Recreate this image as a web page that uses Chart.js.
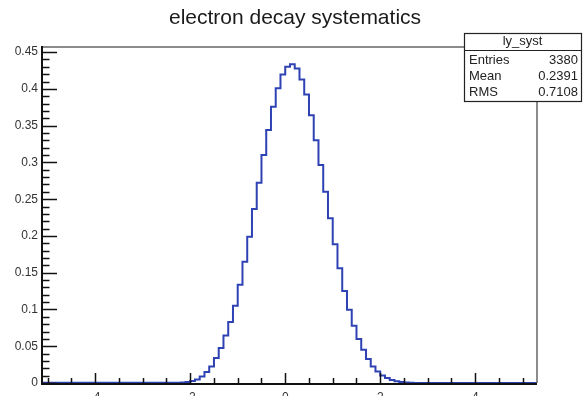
<!DOCTYPE html>
<html>
<head>
<meta charset="utf-8">
<script src="https://cdn.jsdelivr.net/npm/chart.js@4/dist/chart.umd.min.js"></script>
<style>
html,body{margin:0;padding:0;background:#fff;}
#wrap{width:583px;height:396px;position:relative;}
</style>
</head>
<body>
<div id="wrap"><canvas id="c" width="583" height="396"></canvas></div>
<script>
// ---- data ----
const titleText = "electron decay systematics";
const histName = "ly_syst";
const statLabels = ["Entries", "Mean", "RMS"];
const statValues = ["3380", "0.2391", "0.7108"];

// low edges of bins (bin width 0.1); first point = start of range, last = end of range
const binLow = [-5.12, -2.2, -2.1, -2.0, -1.9, -1.8, -1.7, -1.6, -1.5, -1.4, -1.3, -1.2, -1.1,
  -1.0, -0.9, -0.8, -0.7, -0.6, -0.5, -0.4, -0.3, -0.2, -0.1, 0.0, 0.1, 0.2, 0.3, 0.4, 0.5,
  0.6, 0.7, 0.8, 0.9, 1.0, 1.1, 1.2, 1.3, 1.4, 1.5, 1.6, 1.7, 1.8, 1.9, 2.0, 2.1, 2.2, 2.3,
  2.4, 2.5, 2.6, 2.7, 2.8, 5.3];
const binContent = [0, 0.0004, 0.0008, 0.0015, 0.0027, 0.0049, 0.009, 0.0149, 0.0225, 0.034, 0.0475, 0.0646, 0.0828,
  0.105, 0.1335, 0.165, 0.199, 0.2367, 0.2724, 0.31, 0.344, 0.3756, 0.401, 0.4196, 0.43, 0.4335, 0.4277, 0.4128, 0.3924,
  0.3643, 0.3303, 0.2964, 0.2602, 0.224, 0.1887, 0.156, 0.1253, 0.0995, 0.0778, 0.0597, 0.0452, 0.0326, 0.0225, 0.0157, 0.0103, 0.0068, 0.0042,
  0.0025, 0.0014, 0.0008, 0.0004, 0, 0];

const xTickValues = [-4, -2, 0, 2, 4];
const yTickValues = [0, 0.05, 0.1, 0.15, 0.2, 0.25, 0.3, 0.35, 0.4, 0.45];
const xRange = [-5.12, 5.3];
const yRange = [0, 0.457];

// ---- build ----
const points = binLow.map((x, i) => ({x: x, y: binContent[i]}));
const FONT = '"Liberation Sans", Arial, sans-serif';

const framePlugin = {
  id: 'frame',
  afterDraw(chart) {
    const ctx = chart.ctx;
    const a = chart.chartArea;
    const xs = chart.scales.x, ys = chart.scales.y;
    ctx.save();
    // title
    ctx.fillStyle = '#1a1a1a';
    ctx.font = '21px ' + FONT;
    ctx.textAlign = 'center';
    ctx.textBaseline = 'alphabetic';
    ctx.fillText(titleText, 295, 24);
    // frame top/right
    ctx.strokeStyle = '#666';
    ctx.lineWidth = 1.5;
    ctx.beginPath();
    ctx.moveTo(a.left, a.top); ctx.lineTo(a.right, a.top); ctx.lineTo(a.right, a.bottom);
    ctx.stroke();
    // axes
    ctx.strokeStyle = '#111';
    ctx.lineWidth = 2;
    ctx.beginPath();
    ctx.moveTo(a.left, a.top - 1); ctx.lineTo(a.left, a.bottom + 1); ctx.lineTo(a.right, a.bottom + 1);
    ctx.stroke();
    // y ticks
    ctx.lineWidth = 1.5;
    ctx.beginPath();
    for (let i = 0; i <= 45; i++) {
      const v = i * 0.01;
      const py = Math.round(ys.getPixelForValue(v)) + 0.5;
      const len = (i % 5 === 0) ? 15 : 7.5;
      ctx.moveTo(a.left, py); ctx.lineTo(a.left + len, py);
    }
    // x ticks
    for (let i = -10; i <= 10; i++) {
      const v = i * 0.5;
      if (v < xRange[0] || v > xRange[1]) continue;
      const px = Math.round(xs.getPixelForValue(v)) + 0.5;
      const len = (i % 4 === 0) ? 10 : 5;
      ctx.moveTo(px, a.bottom); ctx.lineTo(px, a.bottom - len);
    }
    ctx.stroke();
    // stats box
    const bx = 464, by = 33, bw = 117, bh = 68, hsep = 50;
    ctx.fillStyle = '#fff';
    ctx.fillRect(bx, by, bw, bh);
    ctx.strokeStyle = '#222';
    ctx.lineWidth = 1.2;
    ctx.strokeRect(bx + 0.5, by + 0.5, bw, bh);
    ctx.beginPath(); ctx.moveTo(bx, hsep + 0.5); ctx.lineTo(bx + bw, hsep + 0.5); ctx.stroke();
    ctx.fillStyle = '#222';
    ctx.font = '13px ' + FONT;
    ctx.textBaseline = 'middle';
    ctx.textAlign = 'center';
    ctx.fillText(histName, bx + bw / 2, 41.5);
    const rowsY = [60, 76, 92];
    for (let i = 0; i < statLabels.length; i++) {
      ctx.textAlign = 'left';
      ctx.fillText(statLabels[i], bx + 5, rowsY[i]);
      ctx.textAlign = 'right';
      ctx.fillText(statValues[i], bx + bw - 3, rowsY[i]);
    }
    ctx.restore();
  }
};

new Chart(document.getElementById('c'), {
  type: 'line',
  data: {
    datasets: [{
      data: points,
      stepped: 'after',
      borderColor: '#2e42b4',
      borderWidth: 2,
      pointRadius: 0,
      fill: false,
      clip: 6
    }]
  },
  options: {
    responsive: false,
    animation: false,
    events: [],
    layout: {padding: {left: 0, right: 46, top: 47, bottom: 0}},
    plugins: {
      legend: {display: false},
      tooltip: {enabled: false},
      title: {display: false}
    },
    scales: {
      x: {
        type: 'linear',
        min: xRange[0], max: xRange[1],
        grid: {display: false, drawTicks: false},
        border: {display: false},
        afterBuildTicks: s => { s.ticks = xTickValues.map(v => ({value: v})); },
        afterFit: s => { s.height = 13; },
        ticks: {
          color: '#333',
          padding: 7,
          maxRotation: 0,
          font: {family: FONT, size: 12},
          callback: v => String(v)
        }
      },
      y: {
        type: 'linear',
        min: yRange[0], max: yRange[1],
        grid: {display: false, drawTicks: false},
        border: {display: false},
        afterBuildTicks: s => { s.ticks = yTickValues.map(v => ({value: v})); },
        afterFit: s => { s.width = 42; },
        ticks: {
          color: '#333',
          padding: 4,
          font: {family: FONT, size: 12},
          callback: v => String(+Number(v).toFixed(2))
        }
      }
    }
  },
  plugins: [framePlugin]
});
</script>
</body>
</html>
